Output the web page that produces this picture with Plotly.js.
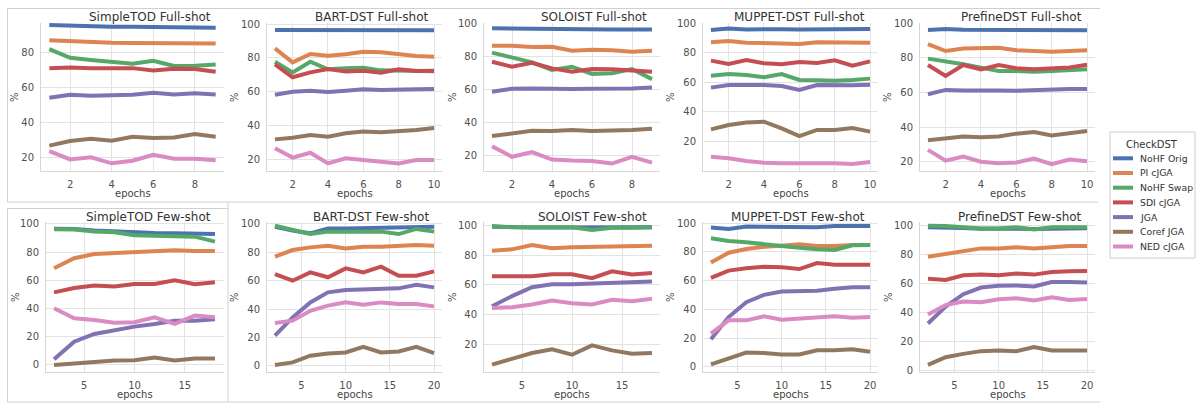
<!DOCTYPE html>
<html>
<head>
<meta charset="utf-8">
<script src="https://cdn.plot.ly/plotly-3.0.1.min.js"></script>
<style>
  html, body { margin: 0; padding: 0; background: #ffffff; }
  #chart { width: 1199px; height: 403px; }
</style>
</head>
<body>
<div id="chart"></div>
<script>
// ---------------- DATA ----------------
const seriesNames = ["NoHF Orig", "PI cJGA", "NoHF Swap", "SDI cJGA", "JGA", "Coref JGA", "NED cJGA"];
const legendTitle = "CheckDST";

const epochsFull9 = [1, 2, 3, 4, 5, 6, 7, 8, 9];
const epochsFull10 = [1, 2, 3, 4, 5, 6, 7, 8, 9, 10];
const epochsFew18 = [2, 4, 6, 8, 10, 12, 14, 16, 18];
const epochsFew20 = [2, 4, 6, 8, 10, 12, 14, 16, 18, 20];

const panelTitles = [
  "SimpleTOD Full-shot", "BART-DST Full-shot", "SOLOIST Full-shot", "MUPPET-DST Full-shot", "PrefineDST Full-shot",
  "SimpleTOD Few-shot", "BART-DST Few-shot", "SOLOIST Few-shot", "MUPPET-DST Few-shot", "PrefineDST Few-shot"
];
const xAxisLabel = "epochs";
const yAxisLabel = "%";

// rows follow seriesNames order
const simpleTODFull = [
  [95.8, 95.3, 95.2, 94.8, 94.8, 94.8, 94.7, 94.7, 94.3],
  [87.2, 86.7, 85.9, 85.7, 85.5, 85.5, 85.3, 85.3, 85.3],
  [82.1, 77.1, 75.8, 74.9, 73.7, 75.4, 72.4, 72.6, 73.3],
  [71.2, 71.6, 71.2, 71.0, 71.2, 69.9, 70.9, 70.7, 69.1],
  [54.3, 56.0, 55.4, 55.8, 56.0, 57.1, 56.2, 56.8, 56.2],
  [26.9, 29.5, 30.9, 29.7, 32.0, 31.2, 31.6, 33.5, 32.0],
  [23.8, 19.0, 20.2, 16.8, 18.3, 21.7, 19.4, 19.4, 18.5]
];
const bartFull = [
  [96.5, 96.5, 96.8, 96.3, 96.3, 96.3, 96.3, 96.3, 96.5, 96.3],
  [85.6, 77.3, 82.3, 81.3, 82.1, 83.6, 83.3, 82.3, 81.1, 80.7],
  [77.7, 71.4, 77.7, 73.2, 73.8, 74.2, 72.6, 72.4, 72.2, 72.0],
  [76.2, 68.5, 71.4, 73.4, 72.0, 72.4, 71.2, 73.2, 72.2, 72.4],
  [58.2, 60.0, 60.6, 59.8, 60.6, 61.4, 61.0, 61.4, 61.4, 61.6],
  [31.8, 32.8, 34.4, 33.4, 35.4, 36.4, 36.0, 36.4, 37.3, 38.5],
  [26.5, 21.0, 23.9, 17.6, 20.6, 19.4, 18.6, 17.6, 19.6, 19.6]
];
const soloistFull = [
  [97.0, 96.8, 96.4, 96.2, 96.2, 96.2, 96.2, 96.2, 96.2],
  [86.5, 86.5, 85.7, 85.9, 83.5, 84.1, 83.7, 82.9, 83.5],
  [82.3, 79.4, 76.4, 71.8, 73.8, 69.4, 69.8, 72.4, 66.3],
  [76.8, 73.8, 76.2, 72.8, 70.8, 72.4, 72.2, 71.4, 70.8],
  [58.7, 60.5, 60.7, 60.3, 60.3, 60.5, 60.5, 60.7, 61.3],
  [31.9, 33.5, 35.1, 34.9, 35.5, 34.9, 35.1, 35.5, 36.3],
  [25.8, 19.4, 22.2, 17.7, 17.1, 16.9, 15.3, 19.4, 15.9]
];
const muppetFull = [
  [95.5, 96.5, 95.8, 96.2, 96.0, 95.8, 96.0, 96.2, 96.2, 96.2],
  [87.1, 88.0, 86.9, 86.7, 86.4, 86.0, 87.1, 87.1, 87.1, 86.9],
  [64.5, 65.6, 65.0, 63.4, 65.6, 61.6, 61.4, 61.1, 61.6, 62.5],
  [74.7, 72.4, 75.1, 72.9, 72.2, 73.8, 73.1, 74.9, 71.3, 74.2],
  [56.4, 58.2, 58.2, 58.2, 57.5, 54.8, 58.2, 58.0, 58.0, 58.4],
  [28.1, 31.1, 32.7, 33.3, 28.8, 23.6, 27.7, 27.7, 29.0, 26.6],
  [9.6, 8.5, 6.7, 5.5, 5.1, 5.1, 5.5, 5.1, 4.6, 6.0]
];
const prefineFull = [
  [96.1, 96.7, 96.3, 96.3, 96.3, 96.0, 96.0, 95.8, 96.0, 96.0],
  [88.0, 84.0, 85.5, 85.7, 85.9, 84.5, 84.0, 83.5, 84.0, 84.5],
  [79.6, 78.2, 76.3, 74.4, 72.4, 72.5, 72.0, 72.5, 73.0, 73.5],
  [75.9, 69.6, 75.9, 73.4, 75.9, 74.0, 73.5, 74.0, 74.5, 76.0],
  [59.0, 61.5, 61.1, 61.3, 61.1, 61.0, 61.5, 61.5, 62.0, 62.0],
  [32.4, 33.7, 34.5, 34.1, 34.5, 36.2, 37.1, 35.2, 36.2, 37.7],
  [26.8, 20.6, 22.9, 20.0, 19.1, 19.5, 21.8, 18.5, 21.2, 20.2]
];
const simpleTODFew = [
  [96.7, 96.5, 95.3, 94.6, 93.9, 93.6, 93.4, 93.1, 92.9],
  [68.6, 75.7, 78.7, 79.4, 80.4, 80.4, 81.3, 80.9, 80.9],
  [96.2, 96.0, 94.6, 94.1, 92.0, 91.7, 91.0, 91.0, 87.5],
  [51.5, 54.6, 56.3, 55.6, 57.4, 57.4, 60.0, 57.2, 58.6],
  [4.0, 16.5, 22.0, 24.8, 27.2, 29.1, 31.4, 31.4, 32.4],
  [0.0, 1.2, 2.1, 3.1, 3.3, 5.2, 3.1, 4.5, 4.5],
  [40.2, 33.1, 31.9, 30.0, 30.3, 33.8, 29.1, 35.0, 33.8]
];
const bartFew = [
  [98.1, 95.3, 93.4, 96.9, 96.9, 97.2, 97.2, 97.4, 98.1, 98.1],
  [76.9, 81.6, 83.5, 84.7, 82.8, 84.0, 84.0, 84.7, 85.2, 84.7],
  [98.8, 95.8, 92.9, 94.6, 94.6, 95.1, 94.6, 92.9, 96.5, 94.6],
  [64.7, 60.0, 65.9, 62.4, 68.7, 65.9, 69.9, 63.5, 63.5, 66.6],
  [21.2, 34.1, 44.7, 51.8, 53.4, 53.6, 54.4, 54.6, 57.2, 55.3],
  [0.5, 2.4, 7.1, 8.7, 9.4, 13.4, 9.4, 10.1, 13.4, 8.9],
  [30.1, 31.8, 38.8, 42.4, 44.7, 43.1, 44.7, 43.5, 43.5, 41.9]
];
const soloistFew = [
  [99.3, 98.8, 98.8, 98.8, 98.8, 98.8, 98.9, 98.9, 99.0],
  [83.1, 84.0, 86.9, 84.7, 85.4, 85.8, 85.8, 86.3, 86.5],
  [99.8, 98.9, 98.9, 98.9, 98.9, 97.1, 98.6, 98.6, 98.9],
  [65.8, 65.8, 65.8, 67.2, 67.2, 64.5, 69.2, 67.0, 68.1],
  [45.6, 52.4, 58.4, 60.4, 60.4, 60.7, 61.0, 61.3, 62.2],
  [6.1, 10.1, 13.9, 16.4, 12.8, 19.1, 15.7, 13.5, 13.9],
  [44.3, 44.9, 46.7, 49.4, 47.6, 46.7, 49.9, 49.0, 50.6]
];
const muppetFew = [
  [97.0, 96.0, 97.7, 97.7, 97.7, 97.2, 97.2, 98.1, 98.1, 98.1],
  [72.6, 79.5, 82.1, 83.7, 84.4, 85.3, 84.2, 84.2, 84.9, 84.9],
  [89.5, 87.7, 86.7, 85.3, 84.4, 83.0, 81.9, 81.4, 84.7, 84.9],
  [61.9, 67.0, 68.6, 69.7, 69.3, 68.1, 72.3, 71.1, 71.1, 71.1],
  [19.2, 34.6, 45.0, 50.1, 52.4, 52.4, 52.9, 54.3, 55.4, 55.4],
  [1.6, 5.8, 9.9, 9.5, 8.5, 8.5, 11.5, 11.5, 12.2, 10.4],
  [23.1, 32.3, 32.3, 35.1, 32.8, 33.5, 34.2, 35.1, 34.2, 34.6]
];
const prefineFew = [
  [99.0, 99.0, 98.5, 98.0, 97.8, 97.8, 97.8, 98.0, 98.2, 98.3],
  [78.6, 80.5, 82.5, 84.4, 84.4, 85.1, 84.4, 85.5, 86.0, 86.0],
  [100.0, 99.8, 98.9, 98.2, 98.2, 98.9, 97.5, 98.9, 98.9, 98.9],
  [63.5, 62.6, 65.8, 66.3, 65.8, 67.0, 66.3, 68.1, 68.6, 68.8],
  [32.6, 44.2, 52.8, 57.4, 58.6, 58.8, 58.1, 61.2, 61.2, 60.9],
  [4.0, 9.3, 11.6, 13.5, 14.0, 13.5, 16.3, 14.0, 14.0, 14.0],
  [38.8, 45.3, 47.7, 47.2, 49.3, 50.0, 48.4, 50.7, 48.8, 49.5]
];

const xTicksFull9 = [2, 4, 6, 8];
const xTicksFull10 = [2, 4, 6, 8, 10];
const xTicksFew18 = [5, 10, 15];
const xTicksFew20 = [5, 10, 15, 20];
const yTicksA = [20, 40, 60, 80];
const yTicksB = [20, 40, 60, 80, 100];
const yTicksC = [0, 20, 40, 60, 80, 100];

// ---------------- STYLE / LAYOUT ----------------
const colors = ["#4C72B0", "#DD8452", "#55A868", "#C44E52", "#8172B3", "#937860", "#DA8BC3"];
const W = 1199, H = 403;
const fx = v => v / W;
const fy = v => 1 - v / H;
const FONT = "DejaVu Sans, Liberation Sans, sans-serif";

const panelData = [simpleTODFull, bartFull, soloistFull, muppetFull, prefineFull,
                   simpleTODFew, bartFew, soloistFew, muppetFew, prefineFew];
const panelEpochs = [epochsFull9, epochsFull10, epochsFull9, epochsFull10, epochsFull10,
                     epochsFew18, epochsFew20, epochsFew18, epochsFew20, epochsFew20];
const panelXTicks = [xTicksFull9, xTicksFull10, xTicksFull9, xTicksFull10, xTicksFull10,
                     xTicksFew18, xTicksFew20, xTicksFew18, xTicksFew20, xTicksFew20];
const panelYTicks = [yTicksA, yTicksB, yTicksB, yTicksB, yTicksB,
                     yTicksC, yTicksC, yTicksB, yTicksC, yTicksC];

// pixel geometry
const panelXpx = [[41, 224], [267, 442], [484, 660], [703, 878], [920, 1095],
                  [46, 224], [267, 442], [484, 660], [703, 878], [920, 1095]];
const rowYpx = [[23, 171], [222, 372]];
const panelXRange = [[0.6, 9.4], [0.55, 10.45], [0.6, 9.4], [0.55, 10.45], [0.55, 10.45],
                     [1.2, 18.9], [1.1, 20.9], [1.2, 18.8], [1.1, 20.9], [1.1, 20.9]];
const panelYRange = [[12.4, 97.0], [13.1, 100.6], [10.8, 100.2], [-0.1, 100.2], [14.6, 100.2],
                     [-5.0, 101.4], [-4.4, 101.4], [1.1, 102.5], [-3.7, 100.9], [-0.9, 102.6]];
const yLabelPx = [15, 235, 453, 671, 888, 15, 234, 452, 670, 888];
const titleYpx = [17, 217];
const xLabelYpx = [193, 394];

const traces = [];
const layout = {
  width: W, height: H,
  margin: {l: 0, r: 0, t: 0, b: 0},
  paper_bgcolor: "#ffffff",
  plot_bgcolor: "#ffffff",
  showlegend: false,
  font: {family: FONT, color: "#3a3a3a", size: 10},
  annotations: [],
  shapes: []
};

for (let p = 0; p < 10; p++) {
  const row = p < 5 ? 0 : 1;
  const ax = p === 0 ? "" : String(p + 1);
  const data = panelData[p];
  for (let s = 0; s < seriesNames.length; s++) {
    traces.push({
      type: "scatter", mode: "lines",
      x: panelEpochs[p], y: data[s],
      name: seriesNames[s],
      xaxis: "x" + ax, yaxis: "y" + ax,
      line: {color: colors[s], width: 4},
      hoverinfo: "x+y+name"
    });
  }
  const common = {
    showgrid: true, gridcolor: "#e3e3e3", gridwidth: 1,
    zeroline: false, showline: true, linecolor: "#d6d6d6", linewidth: 1,
    ticks: "outside", ticklen: 4, tickcolor: "rgba(0,0,0,0)",
    tickfont: {family: FONT, size: 10, color: "#505050"},
    fixedrange: true
  };
  layout["xaxis" + ax] = Object.assign({}, common, {
    domain: [fx(panelXpx[p][0]), fx(panelXpx[p][1])],
    range: panelXRange[p],
    tickmode: "array", tickvals: panelXTicks[p], ticktext: panelXTicks[p].map(String),
    anchor: "y" + ax
  });
  layout["yaxis" + ax] = Object.assign({}, common, {
    domain: [fy(rowYpx[row][1]), fy(rowYpx[row][0])],
    range: panelYRange[p],
    tickmode: "array", tickvals: panelYTicks[p], ticktext: panelYTicks[p].map(String),
    anchor: "x" + ax
  });
  // subplot title
  layout.annotations.push({
    xref: "paper", yref: "paper",
    x: fx(panelXpx[p][1] - 11), y: fy(titleYpx[row]),
    xanchor: "right", yanchor: "middle",
    text: panelTitles[p], showarrow: false,
    font: {family: FONT, size: 12, color: "#333333"}
  });
  // x label
  layout.annotations.push({
    xref: "paper", yref: "paper",
    x: fx((panelXpx[p][0] + panelXpx[p][1]) / 2), y: fy(xLabelYpx[row]),
    xanchor: "center", yanchor: "middle",
    text: xAxisLabel, showarrow: false,
    font: {family: FONT, size: 10, color: "#444444"}
  });
  // y label
  layout.annotations.push({
    xref: "paper", yref: "paper",
    x: fx(yLabelPx[p]), y: fy((rowYpx[row][0] + rowYpx[row][1]) / 2),
    xanchor: "center", yanchor: "middle", textangle: -90,
    text: yAxisLabel, showarrow: false,
    font: {family: FONT, size: 10, color: "#444444"}
  });
}

// frames around the figure rows
const frameColor = "#d0d0d0";
function pline(x0, y0, x1, y1) {
  layout.shapes.push({type: "line", xref: "paper", yref: "paper",
    x0: fx(x0), y0: fy(y0), x1: fx(x1), y1: fy(y1),
    line: {color: frameColor, width: 1}});
}
pline(7, 8.5, 1100, 8.5);
pline(7.5, 8.5, 7.5, 202);
pline(7, 202, 1098, 202);
pline(7.5, 208.5, 228, 208.5);
pline(7.5, 208.5, 7.5, 402);
pline(228, 203, 228, 402);
pline(7, 402, 1100, 402);

// legend (drawn in paper coordinates)
layout.shapes.push({type: "rect", xref: "paper", yref: "paper",
  x0: fx(1110), y0: fy(258), x1: fx(1195), y1: fy(132),
  fillcolor: "#ffffff", line: {color: "#cccccc", width: 1}});
layout.annotations.push({
  xref: "paper", yref: "paper", x: fx(1152), y: fy(144),
  xanchor: "center", yanchor: "middle", text: legendTitle, showarrow: false,
  font: {family: FONT, size: 10, color: "#333333"}
});
for (let s = 0; s < seriesNames.length; s++) {
  const yy = 158.3 + s * 14.7;
  layout.shapes.push({type: "line", xref: "paper", yref: "paper",
    x0: fx(1113), x1: fx(1133), y0: fy(yy), y1: fy(yy),
    line: {color: colors[s], width: 4}});
  layout.annotations.push({
    xref: "paper", yref: "paper", x: fx(1138), y: fy(yy),
    xanchor: "left", yanchor: "middle", text: seriesNames[s], showarrow: false,
    font: {family: FONT, size: 9.3, color: "#333333"}
  });
}

Plotly.newPlot("chart", traces, layout, {displayModeBar: false, staticPlot: true});
</script>
</body>
</html>
